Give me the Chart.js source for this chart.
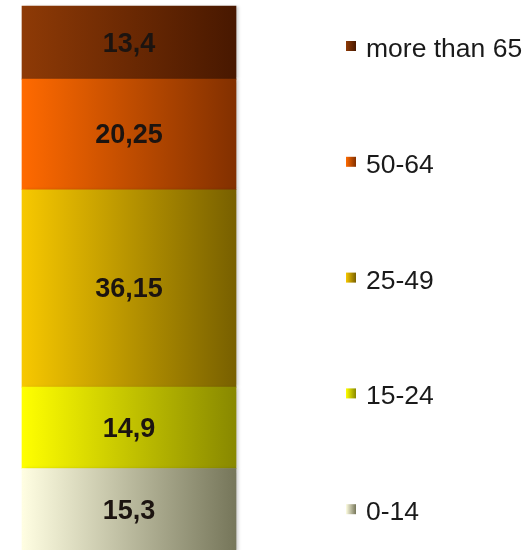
<!DOCTYPE html>
<html>
<head>
<meta charset="utf-8">
<script src="https://cdn.jsdelivr.net/npm/chart.js@4/dist/chart.umd.min.js"></script>
<style>
  html, body { margin: 0; padding: 0; background: #fff; overflow: hidden; }
  canvas { display: block; }
</style>
</head>
<body>
<canvas id="c" width="530" height="552"></canvas>
<script>
// Age groups, bottom segment first, and their shares (%)
const groups = ['0-14', '15-24', '25-49', '50-64', 'more than 65'];
const shares = [15.3, 14.9, 36.15, 20.25, 13.4];
const column = [''];

// Left-to-right shading of each segment
const shades = [
  ['#fffee2', '#76765a'],
  ['#ffff00', '#888800'],
  ['#f7c800', '#786000'],
  ['#ff6a00', '#823000'],
  ['#8e3a06', '#481800']
];

function sideGradient(ctx, x0, x1, pair) {
  const g = ctx.createLinearGradient(x0, 0, x1, 0);
  g.addColorStop(0, pair[0]);
  g.addColorStop(1, pair[1]);
  return g;
}

// Value written in the middle of each segment, with a decimal comma
const segmentLabels = {
  id: 'segmentLabels',
  afterDatasetsDraw(chart) {
    const ctx = chart.ctx;
    ctx.save();
    ctx.font = 'bold 27px "Liberation Sans", Arial, sans-serif';
    ctx.fillStyle = '#1c1410';
    ctx.textAlign = 'center';
    ctx.textBaseline = 'middle';
    chart.data.datasets.forEach((ds, i) => {
      const bar = chart.getDatasetMeta(i).data[0];
      const mid = (bar.y + bar.base) / 2;
      ctx.fillText(String(ds.data[0]).replace('.', ','), bar.x, mid + 1.5);
    });
    ctx.restore();
  }
};

// Soft shadow to the right of the column
const columnShadow = {
  id: 'columnShadow',
  beforeDatasetsDraw(chart) {
    const ctx = chart.ctx;
    ctx.save();
    ctx.shadowColor = 'rgba(0,0,0,0.18)';
    ctx.shadowOffsetX = 3;
    ctx.shadowBlur = 3;
  },
  afterDatasetsDraw(chart) {
    chart.ctx.restore();
  }
};

// Legend on the right, widely spaced, top entry = oldest group
const sideLegend = {
  id: 'sideLegend',
  afterDraw(chart) {
    const ctx = chart.ctx;
    const n = chart.data.datasets.length;
    ctx.save();
    ctx.font = '26.5px "Liberation Sans", Arial, sans-serif';
    ctx.textBaseline = 'alphabetic';
    for (let k = 0; k < n; k++) {
      const i = n - 1 - k;
      const ds = chart.data.datasets[i];
      const base = 57 + k * 115.8;
      ctx.fillStyle = sideGradient(ctx, 346, 356, shades[i]);
      ctx.fillRect(346, base - 16, 10, 10);
      ctx.fillStyle = '#1a1a1a';
      ctx.fillText(ds.label, 366, base);
    }
    ctx.restore();
  }
};

new Chart(document.getElementById('c'), {
  type: 'bar',
  data: {
    labels: column,
    datasets: groups.map((g, i) => ({
      label: g,
      data: [shares[i]],
      backgroundColor: (c) => {
        const a = c.chart.chartArea;
        if (!a) return shades[i][0];
        return sideGradient(c.chart.ctx, a.left, a.right, shades[i]);
      },
      borderWidth: 0,
      barPercentage: 1,
      categoryPercentage: 1,
      clip: false
    }))
  },
  options: {
    responsive: false,
    animation: false,
    layout: { padding: { left: 22, right: 294, top: 6, bottom: 0 } },
    scales: {
      x: { stacked: true, display: false },
      y: { stacked: true, display: false, min: 0, max: 100 }
    },
    plugins: {
      legend: { display: false },
      tooltip: { enabled: false }
    }
  },
  plugins: [columnShadow, segmentLabels, sideLegend]
});
</script>
</body>
</html>
